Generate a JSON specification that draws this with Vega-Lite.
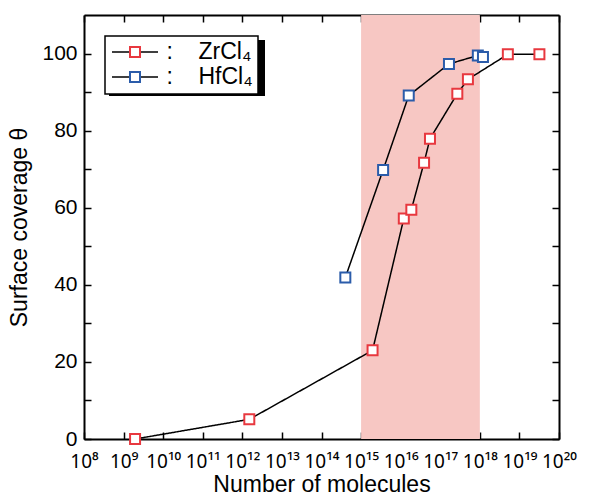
{
  "$schema": "https://vega.github.io/schema/vega-lite/v6.json",
  "width": 475,
  "height": 424,
  "autosize": {"type": "none"},
  "padding": {"left": 84, "top": 15, "right": 30, "bottom": 63},
  "background": "white",
  "config": {
    "view": {"stroke": null},
    "font": "Liberation Sans",
    "axis": {
      "labelFont": "Liberation Sans",
      "titleFont": "Liberation Sans",
      "labelColor": "black",
      "titleColor": "black",
      "domainColor": "black",
      "tickColor": "black",
      "domainWidth": 2,
      "tickWidth": 1.5,
      "grid": false,
      "labelFontSize": 21,
      "titleFontSize": 23,
      "titleFontWeight": "normal"
    },
    "legend": {"labelFont": "Liberation Sans", "labelColor": "black", "strokeWidth": 1.5}
  },
  "datasets": {
    "coverage": [
      {"compound": "ZrCl₄", "molecules": 1.95e9, "theta": 0},
      {"compound": "ZrCl₄", "molecules": 1.5e12, "theta": 5.1},
      {"compound": "ZrCl₄", "molecules": 1.95e15, "theta": 23.0},
      {"compound": "ZrCl₄", "molecules": 1.2e16, "theta": 57.2},
      {"compound": "ZrCl₄", "molecules": 1.86e16, "theta": 59.5},
      {"compound": "ZrCl₄", "molecules": 3.9e16, "theta": 71.7},
      {"compound": "ZrCl₄", "molecules": 5.5e16, "theta": 77.9},
      {"compound": "ZrCl₄", "molecules": 2.7e17, "theta": 89.6},
      {"compound": "ZrCl₄", "molecules": 5.0e17, "theta": 93.3},
      {"compound": "ZrCl₄", "molecules": 5.1e18, "theta": 99.8},
      {"compound": "ZrCl₄", "molecules": 3.2e19, "theta": 99.8},
      {"compound": "HfCl₄", "molecules": 4.0e14, "theta": 41.9},
      {"compound": "HfCl₄", "molecules": 3.6e15, "theta": 69.8},
      {"compound": "HfCl₄", "molecules": 1.6e16, "theta": 89.1},
      {"compound": "HfCl₄", "molecules": 1.66e17, "theta": 97.3},
      {"compound": "HfCl₄", "molecules": 8.9e17, "theta": 99.5},
      {"compound": "HfCl₄", "molecules": 1.2e18, "theta": 99.1}
    ],
    "window": [{"start": 1e15, "end": 1e18}]
  },
  "resolve": {"axis": {"x": "independent", "y": "independent"}},
  "layer": [
    {
      "data": {"name": "window"},
      "mark": {"type": "rect"},
      "encoding": {
        "x": {
          "field": "start",
          "type": "quantitative",
          "scale": {"type": "log", "domain": [1e8, 1e20]},
          "axis": {
            "orient": "bottom",
            "values": [1e8, 1e9, 1e10, 1e11, 1e12, 1e13, 1e14, 1e15, 1e16, 1e17, 1e18, 1e19, 1e20],
            "labelExpr": "'10' + (round(log(datum.value)/LN10) >= 10 ? substring('⁰¹²³⁴⁵⁶⁷⁸⁹', floor(round(log(datum.value)/LN10)/10), floor(round(log(datum.value)/LN10)/10)+1) : '') + substring('⁰¹²³⁴⁵⁶⁷⁸⁹', round(log(datum.value)/LN10) % 10, round(log(datum.value)/LN10) % 10 + 1)",
            "labelFont": "Noto Sans",
            "labelFontSize": 19,
            "tickSize": -7,
            "labelPadding": 20,
            "labelFlush": false,
            "labelOverlap": false,
            "title": "Number of molecules",
            "titlePadding": 2
          }
        },
        "x2": {"field": "end"},
        "color": {
          "field": "start",
          "type": "quantitative",
          "scale": {"domain": [0, 1], "range": ["#f7c7c3", "#f7c7c3"]},
          "legend": {
            "orient": "none",
            "legendX": 25,
            "legendY": 25,
            "title": null,
            "direction": "vertical",
            "gradientLength": 56,
            "gradientThickness": 156,
            "gradientOpacity": 0,
            "gradientStrokeWidth": 0,
            "padding": 0,
            "fillColor": "black",
            "labelExpr": "''",
            "labelOffset": 0
          }
        }
      }
    },
    {
      "data": {"name": "coverage"},
      "mark": {"type": "line", "color": "black", "strokeWidth": 1.5},
      "encoding": {
        "x": {
          "field": "molecules",
          "type": "quantitative",
          "scale": {"type": "log", "domain": [1e8, 1e20]},
          "axis": {
            "orient": "top",
            "values": [1e8, 1e9, 1e10, 1e11, 1e12, 1e13, 1e14, 1e15, 1e16, 1e17, 1e18, 1e19, 1e20],
            "labels": false,
            "tickSize": -7,
            "title": null
          }
        },
        "y": {
          "field": "theta",
          "type": "quantitative",
          "scale": {"domain": [0, 110]},
          "axis": {
            "orient": "left",
            "values": [0, 10, 20, 30, 40, 50, 60, 70, 80, 90, 100],
            "labelExpr": "datum.value % 20 === 0 ? datum.label : ''",
            "tickSize": -7,
            "labelPadding": 14,
            "title": "Surface coverage θ",
            "titlePadding": 10
          }
        },
        "strokeDash": {
          "field": "compound",
          "type": "nominal",
          "scale": {"domain": ["ZrCl₄", "HfCl₄"], "range": [[1, 0], [1, 0]]},
          "legend": {
            "orient": "top-left",
            "offset": 21,
            "title": null,
            "padding": 4.5,
            "rowPadding": 1,
            "fillColor": "white",
            "strokeColor": "black",
            "symbolType": "M-4.6,0H4.6",
            "symbolSize": 100,
            "symbolStrokeColor": "black",
            "symbolStrokeWidth": 1.5,
            "symbolDash": [1, 0],
            "symbolOffset": 14,
            "labelOffset": 20,
            "labelFontSize": 23,
            "labelLimit": 300,
            "labelExpr": "':\u00a0\u00a0\u00a0\u00a0' + datum.label"
          }
        }
      }
    },
    {
      "data": {"name": "coverage"},
      "mark": {"type": "point", "shape": "square", "size": 100, "strokeWidth": 2, "fill": "white", "opacity": 1},
      "encoding": {
        "x": {
          "field": "molecules",
          "type": "quantitative",
          "scale": {"type": "log", "domain": [1e8, 1e20]},
          "axis": null
        },
        "y": {
          "field": "theta",
          "type": "quantitative",
          "scale": {"domain": [0, 110]},
          "axis": {
            "orient": "right",
            "values": [0, 10, 20, 30, 40, 50, 60, 70, 80, 90, 100],
            "labels": false,
            "tickSize": -7,
            "title": null
          }
        },
        "stroke": {
          "field": "compound",
          "type": "nominal",
          "scale": {"domain": ["ZrCl₄", "HfCl₄"], "range": ["#e8383f", "#2b5caa"]},
          "legend": {
            "orient": "none",
            "legendX": 21,
            "legendY": 21,
            "title": null,
            "padding": 4.5,
            "rowPadding": 1,
            "symbolType": "square",
            "symbolSize": 100,
            "symbolStrokeWidth": 2,
            "symbolFillColor": "white",
            "symbolOpacity": 1,
            "symbolOffset": 14,
            "labelOffset": 20,
            "labelFontSize": 23,
            "labelLimit": 300,
            "labelOpacity": 0,
            "labelExpr": "':\u00a0\u00a0\u00a0\u00a0' + datum.label"
          }
        }
      }
    }
  ]
}
